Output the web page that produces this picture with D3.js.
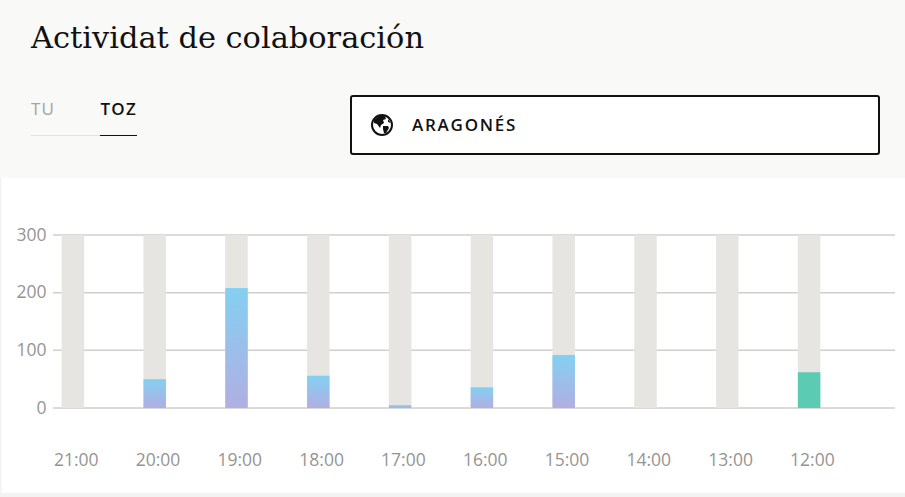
<!DOCTYPE html>
<html>
<head>
<meta charset="utf-8">
<script src="https://cdn.jsdelivr.net/npm/d3@7"></script>
<style>
    html, body { margin: 0; padding: 0; background: #fff; overflow: hidden; }
    text { font-family: "Open Sans", sans-serif; }
</style>
</head>
<body>
<div id="chart"></div>
<script>
let hours = ['21:00', '20:00', '19:00', '18:00', '17:00', '16:00', '15:00', '14:00', '13:00', '12:00']
let counts = [0, 50, 208, 56, 5, 36, 92, 0, 0, 62]
let barKinds = ['blue', 'blue', 'blue', 'blue', 'blue', 'blue', 'blue', 'blue', 'blue', 'green']
let yTicks = [0, 100, 200, 300]
let tabs = ['TU', 'TOZ']

let svg = d3.select('#chart').append('svg').attr('width', 905).attr('height', 497).style('display', 'block')

// page frame and header band
svg.append('rect').attr('width', 905).attr('height', 497).style('fill', '#f3f3f1')
svg.append('rect').attr('x', 1.5).attr('y', 0).attr('width', 904).attr('height', 493).style('fill', 'white')
svg.append('rect').attr('width', 905).attr('height', 178).style('fill', '#f9f9f7')

svg.append('text')
    .attr('x', 31).attr('y', 48)
    .attr('textLength', 393).attr('lengthAdjust', 'spacingAndGlyphs')
    .style('font-family', '"DejaVu Serif", serif')
    .style('font-size', '30px')
    .style('fill', '#111')
    .text('Actividat de colaboración')

// tabs
svg.append('line').attr('x1', 31).attr('x2', 137).attr('y1', 135.5).attr('y2', 135.5).style('stroke', '#e3e3e1')
svg.append('line').attr('x1', 100).attr('x2', 137).attr('y1', 135.5).attr('y2', 135.5).style('stroke', '#111')
svg.selectAll('.tab').data(tabs).enter().append('text')
    .attr('class', 'tab')
    .attr('x', (d, i) => i === 0 ? 31 : 100.5)
    .attr('y', 115)
    .style('font-size', '17px')
    .style('letter-spacing', '1.2px')
    .style('font-weight', (d, i) => i === 0 ? 400 : 600)
    .style('fill', (d, i) => i === 0 ? '#a3a3a0' : '#111')
    .text(d => d)

// language selector
svg.append('rect')
    .attr('x', 351).attr('y', 96).attr('width', 528).attr('height', 58).attr('rx', 2)
    .style('fill', 'white').style('stroke', '#111').style('stroke-width', 2)

let globe = svg.append('g').attr('transform', 'translate(382, 125)')
globe.append('circle').attr('r', 10).style('fill', 'white').style('stroke', '#111').style('stroke-width', 2)
globe.append('path')
    .attr('d', 'M-8,-5 L-3,-9 L3,-9 L4,-6 L1,-5 L2,-2 L-1,0 L-2,3 L-5,-1 L-8,-2 Z M1,1 L6,1 L7,3 L4,8 L2,8 L1,4 Z M6,-6 L9,-2 L6,-3 Z')
    .style('fill', '#111')

svg.append('text')
    .attr('x', 412).attr('y', 131)
    .style('font-size', '17px').style('font-weight', 550).style('letter-spacing', '1.75px')
    .style('fill', '#111')
    .text('ARAGONÉS')

// chart
let y = d3.scaleLinear().domain([0, 300]).range([408, 235])
let x = d3.scaleBand().domain(hours).range([32, 850]).paddingInner(0.725).paddingOuter(0.3625)

// every bar gets its own gradient span so short bars still fade
let defs = svg.append('defs')
counts.forEach((d, i) => {
    let g = defs.append('linearGradient').attr('id', 'bar_' + i)
        .attr('x1', 0).attr('x2', 0).attr('y1', 0).attr('y2', 1)
    g.append('stop').attr('offset', '0%').attr('stop-color', '#84d0f2')
    g.append('stop').attr('offset', '100%').attr('stop-color', '#b1aee2')
})

svg.selectAll('.grid').data(yTicks).enter().append('line')
    .attr('class', 'grid')
    .attr('x1', 53).attr('x2', 895)
    .attr('y1', d => y(d)).attr('y2', d => y(d))
    .style('stroke', '#cfcfcf').style('stroke-width', 1.5)

svg.selectAll('.yLabel').data(yTicks).enter().append('text')
    .attr('class', 'yLabel')
    .attr('x', 46.5).attr('y', d => y(d) + 5.5)
    .attr('text-anchor', 'end')
    .style('font-size', '17.5px').style('fill', '#969592')
    .text(d => d)

svg.selectAll('.track').data(hours).enter().append('rect')
    .attr('class', 'track')
    .attr('x', d => x(d)).attr('width', x.bandwidth())
    .attr('y', y(300)).attr('height', y(0) - y(300))
    .style('fill', '#e6e5e1')

svg.selectAll('.bar').data(counts).enter().append('rect')
    .attr('class', 'bar')
    .attr('x', (d, i) => x(hours[i])).attr('width', x.bandwidth())
    .attr('y', d => y(d)).attr('height', d => y(0) - y(d))
    .style('fill', (d, i) => barKinds[i] === 'green' ? '#5bcbb4' : 'url(#bar_' + i + ')')

svg.selectAll('.xLabel').data(hours).enter().append('text')
    .attr('class', 'xLabel')
    .attr('x', d => x(d) + x.bandwidth() / 2 + 3.3)
    .attr('y', 466)
    .attr('text-anchor', 'middle')
    .style('font-size', '17.5px').style('fill', '#969592')
    .text(d => d)
</script>
</body>
</html>
